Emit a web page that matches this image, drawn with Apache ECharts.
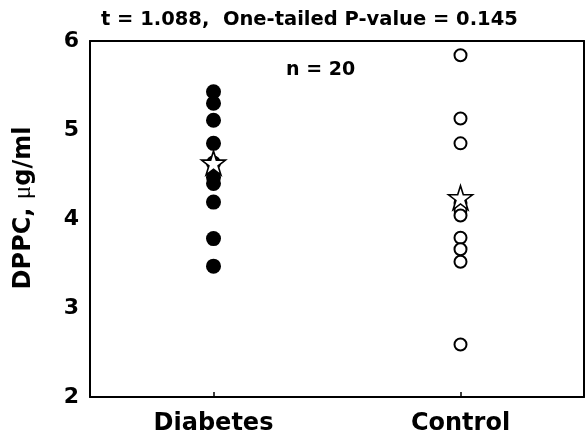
<!DOCTYPE html>
<html>
<head>
<meta charset="utf-8">
<script src="https://cdn.jsdelivr.net/npm/echarts@6/dist/echarts.min.js"></script>
<style>html,body{margin:0;padding:0;background:#fff;}#c{width:586px;height:437px;}</style>
</head>
<body>
<div id="c"></div>
<script>
var categories = ['Diabetes', 'Control'];
var diabetesValues = [5.43, 5.30, 5.11, 4.85, 4.63, 4.47, 4.40, 4.19, 3.78, 3.47];
var controlValues = [5.84, 5.13, 4.85, 4.18, 4.10, 4.04, 3.79, 3.66, 3.52, 2.59];
var meanValues = [4.63, 4.24];
var yTicks = [2, 3, 4, 5, 6];
var titleText = 't = 1.088,  One-tailed P-value = 0.145';
var noteText = 'n = 20';

var FONT = 'DejaVu Sans';
var star = 'path://M50,0 L61.2,34.5 L97.6,34.5 L68.2,55.9 L79.4,90.5 L50,69.1 L20.6,90.5 L31.8,55.9 L2.4,34.5 L38.8,34.5 Z';

var chart = echarts.init(document.getElementById('c'), null, {renderer: 'canvas'});
chart.setOption({
  animation: false,
  backgroundColor: '#fff',
  title: [{
    text: titleText, left: 96, top: 5,
    textStyle: {fontFamily: FONT, fontWeight: 'bold', fontSize: 19.5, color: '#000'}
  }, {
    text: noteText, left: 281, top: 56,
    textStyle: {fontFamily: FONT, fontWeight: 'bold', fontSize: 19, color: '#000'}
  }],
  grid: {left: 90, right: 2, top: 41, bottom: 40, containLabel: false},
  xAxis: [{
    type: 'category', data: categories, boundaryGap: true, position: 'bottom',
    axisLine: {lineStyle: {color: '#000', width: 2}},
    axisTick: {show: true, alignWithLabel: true, inside: true, length: 5, lineStyle: {color: '#000', width: 1.5}},
    axisLabel: {fontFamily: FONT, fontWeight: 'bold', fontSize: 24, color: '#000', margin: 15},
    splitLine: {show: false}
  }, {
    type: 'category', data: categories, position: 'top',
    axisLine: {lineStyle: {color: '#000', width: 2}},
    axisTick: {show: false}, axisLabel: {show: false}
  }],
  yAxis: [{
    type: 'value', min: 2, max: 6, interval: 1, position: 'left',
    name: 'DPPC, {mu|μ}g/ml', nameLocation: 'middle', nameGap: 54, nameRotate: 90,
    nameTextStyle: {fontFamily: FONT, fontWeight: 'bold', fontSize: 24, color: '#000', padding: [0, 0, 0, 22],
      rich: {mu: {fontFamily: 'Liberation Serif', fontWeight: 'normal', fontSize: 25, color: '#000'}}},
    axisLine: {show: true, lineStyle: {color: '#000', width: 2}},
    axisTick: {show: false},
    axisLabel: {fontFamily: FONT, fontWeight: 'bold', fontSize: 22, color: '#000', margin: 11,
      formatter: function (v) { return yTicks.indexOf(v) >= 0 ? String(v) : ''; }},
    splitLine: {show: false}
  }, {
    type: 'value', min: 2, max: 6, interval: 1, position: 'right',
    axisLine: {show: true, lineStyle: {color: '#000', width: 2}},
    axisTick: {show: false}, axisLabel: {show: false}, splitLine: {show: false}
  }],
  series: [{
    type: 'scatter', name: 'Diabetes',
    data: diabetesValues.map(function (v) { return [categories[0], v]; }),
    symbol: 'circle', symbolSize: 15,
    itemStyle: {color: '#000', borderColor: '#000', borderWidth: 0, opacity: 1}
  }, {
    type: 'scatter', name: 'Control',
    data: controlValues.map(function (v) { return [categories[1], v]; }),
    symbol: 'circle', symbolSize: 12,
    itemStyle: {color: '#fff', borderColor: '#000', borderWidth: 2, opacity: 1}
  }, {
    type: 'scatter', name: 'Mean',
    data: meanValues.map(function (v, i) { return [categories[i], v]; }),
    symbol: star, symbolSize: 24, z: 5,
    itemStyle: {color: '#fff', borderColor: '#000', borderWidth: 1.6, opacity: 1}
  }]
});
</script>
</body>
</html>
